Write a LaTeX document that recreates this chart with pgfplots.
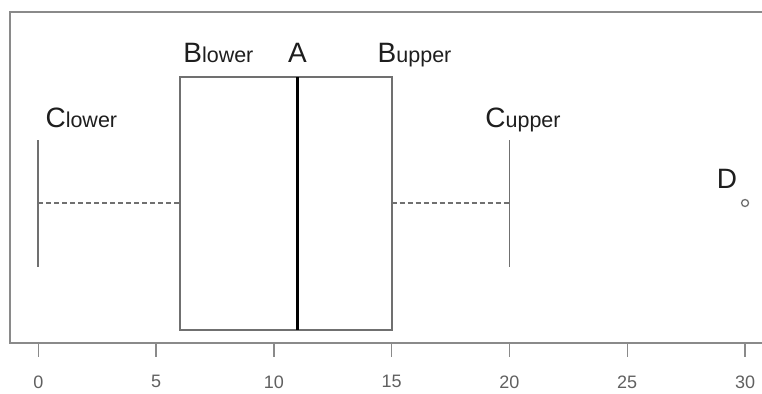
\documentclass[border=0pt]{standalone}
\usepackage{fontspec}
\setmainfont{Liberation Sans}
\usepackage{pgfplots}
\pgfplotsset{compat=1.18}
\definecolor{framegray}{HTML}{8A8A8A}
\definecolor{boxgray}{HTML}{707070}
\definecolor{txt}{HTML}{1E1E1E}
\definecolor{ticktxt}{HTML}{606060}
\newcommand{\LabBig}[1]{{\fontsize{28}{28}\selectfont #1}}
\newcommand{\LabSml}[1]{{\fontsize{21.5}{21.5}\selectfont #1}}
\begin{document}
\begin{tikzpicture}
\begin{axis}[
  width=752pt, height=331pt, scale only axis,
  xmin=-1.2, xmax=30.72, ymin=0, ymax=331,
  axis line style={draw=none},
  clip=false,
  xtick={0,5,...,30}, ytick=\empty,
  xtick pos=left, tick align=outside,
  major tick length=14pt,
  tick style={framegray, line width=1.4pt},
  xticklabel style={font=\fontsize{18}{18}\selectfont, text=ticktxt, yshift=-15pt},
  /pgf/number format/assume math mode=true,
]
\draw[framegray, line width=2pt] (rel axis cs:1,1) -- (rel axis cs:0,1) -- (rel axis cs:0,0) -- (rel axis cs:1,0);
\addplot[boxgray, line width=2pt] coordinates {(6,13) (15,13) (15,266) (6,266)} -- cycle;
\addplot[black, line width=3.2pt] coordinates {(11,13) (11,266)};
\addplot[boxgray, line width=1.8pt, dash pattern=on 5pt off 3pt] coordinates {(0,140) (6,140)};
\addplot[boxgray, line width=1.8pt, dash pattern=on 5pt off 3pt] coordinates {(15,140) (20,140)};
\addplot[boxgray, line width=1.8pt] coordinates {(0,76) (0,203)};
\addplot[boxgray, line width=1.8pt] coordinates {(20,76) (20,203)};
\addplot[only marks, mark=o, mark size=3.5pt, boxgray, line width=1.3pt] coordinates {(30,140)};
\node[anchor=base west, inner sep=0, text=txt] at (axis cs:0.3,215) {\LabBig{C}\LabSml{lower}};
\node[anchor=base west, inner sep=0, text=txt] at (axis cs:6.15,280) {\LabBig{B}\LabSml{lower}};
\node[anchor=base, inner sep=0, text=txt] at (axis cs:11,280) {\LabBig{A}};
\node[anchor=base west, inner sep=0, text=txt] at (axis cs:14.4,280) {\LabBig{B}\LabSml{upper}};
\node[anchor=base west, inner sep=0, text=txt] at (axis cs:18.97,215) {\LabBig{C}\LabSml{upper}};
\node[anchor=base west, inner sep=0, text=txt] at (axis cs:28.8,154) {\LabBig{D}};
\coordinate (sw) at (rel axis cs:0,0);
\coordinate (ne) at (rel axis cs:1,1);
\end{axis}
\pgfresetboundingbox
\path[use as bounding box] ([xshift=-10pt,yshift=-51pt]sw) rectangle ([yshift=12pt]ne);
\end{tikzpicture}
\end{document}
